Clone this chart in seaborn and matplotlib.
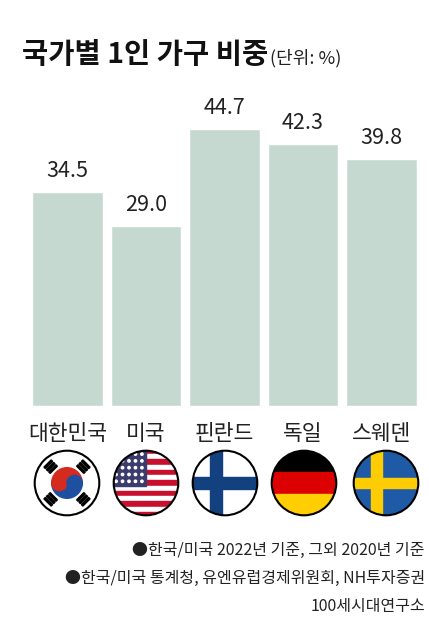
import numpy as np
import pandas as pd
import seaborn as sns
import matplotlib.pyplot as plt
import matplotlib.transforms as mt
from matplotlib.patches import Circle, Rectangle, Wedge

countries = ['대한민국', '미국', '핀란드', '독일', '스웨덴']
shares = [34.5, 29.0, 44.7, 42.3, 39.8]
flags = ['kr', 'us', 'fi', 'de', 'se']

sns.set_theme(style='white')
plt.rcParams['font.family'] = ['Noto Sans CJK KR', 'DejaVu Sans']

W, H = 429, 641
fig = plt.figure(figsize=(W / 100, H / 100), dpi=100)
fig.patch.set_facecolor('white')

ax = fig.add_axes([32 / W, 1 - 406 / H, (417 - 32) / W, 341 / H])
df = pd.DataFrame({'country': countries, 'share': shares})
sns.barplot(data=df, x='country', y='share', color='#c6d9d1', saturation=1,
            width=0.9, ax=ax)
ax.set_ylim(0, 55)
ax.set_xlim(-0.45, 4.45)
for i, v in enumerate(shares):
    ax.text(i, v + 1.6, f'{v:.1f}', ha='center', va='bottom', fontsize=15.5, color='#222222')
ax.set_xlabel('')
ax.set_ylabel('')
ax.set_yticks([])
ax.tick_params(axis='x', length=0, pad=12, labelsize=15.5, colors='#222222')
sns.despine(ax=ax, left=True, bottom=True)


def draw_flag(fa, kind):
    fa.set_xlim(-1, 1)
    fa.set_ylim(-1, 1)
    fa.set_aspect('equal')
    fa.axis('off')
    clip = Circle((0, 0), 0.95, transform=fa.transData)
    parts = []
    if kind == 'kr':
        parts.append(Rectangle((-1, -1), 2, 2, color='white'))
        parts.append(Wedge((0, 0), 0.45, 0, 180, color='#d52b1e'))
        parts.append(Wedge((0, 0), 0.45, 180, 360, color='#1f4fa0'))
        parts.append(Circle((-0.225, 0), 0.225, color='#d52b1e'))
        parts.append(Circle((0.225, 0), 0.225, color='#1f4fa0'))
    elif kind == 'us':
        for k in range(13):
            col = '#c8102e' if k % 2 == 0 else 'white'
            parts.append(Rectangle((-1, 1 - (k + 1) * 2 / 13), 2, 2 / 13, color=col))
        parts.append(Rectangle((-1, 1 - 14 / 13), 1.0, 14 / 13, color='#3c3b6e'))
        for r_ in range(5):
            for c_ in range(5):
                parts.append(Circle((-0.88 + c_ * 0.19, 0.85 - r_ * 0.2), 0.035, color='white'))
    elif kind == 'fi':
        parts.append(Rectangle((-1, -1), 2, 2, color='white'))
        parts.append(Rectangle((-1, -0.18), 2, 0.36, color='#13407f'))
        parts.append(Rectangle((-0.45, -1), 0.36, 2, color='#13407f'))
    elif kind == 'de':
        parts.append(Rectangle((-1, 1 / 3), 2, 2 / 3, color='black'))
        parts.append(Rectangle((-1, -1 / 3), 2, 2 / 3, color='#dd0000'))
        parts.append(Rectangle((-1, -1), 2, 2 / 3, color='#ffce00'))
    elif kind == 'se':
        parts.append(Rectangle((-1, -1), 2, 2, color='#1f5aa6'))
        parts.append(Rectangle((-1, -0.16), 2, 0.32, color='#fecc02'))
        parts.append(Rectangle((-0.45, -1), 0.32, 2, color='#fecc02'))
    for p in parts:
        fa.add_patch(p)
        p.set_clip_path(clip)
    if kind == 'kr':
        for ang in [135, 45, 225, 315]:
            a = np.deg2rad(ang)
            cx, cy = 0.68 * np.cos(a), 0.68 * np.sin(a)
            for k in range(3):
                off = (k - 1) * 0.1
                r = Rectangle((cx - 0.15, cy - 0.03 + off), 0.3, 0.06, color='black', zorder=5)
                r.set_transform(mt.Affine2D().rotate_deg_around(cx, cy, ang + 90) + fa.transData)
                fa.add_patch(r)
    fa.add_patch(Circle((0, 0), 0.95, fill=False, lw=1.5, ec='black', zorder=6))


centers = [67, 146, 225, 304, 386]
rad = 34
for cx, kind in zip(centers, flags):
    fa = fig.add_axes([(cx - rad) / W, 1 - (483 + rad) / H, 2 * rad / W, 2 * rad / H])
    draw_flag(fa, kind)

fig.text(22 / W, 1 - 63 / H, '국가별 1인 가구 비중', fontsize=20.5, fontweight='bold',
         va='baseline', color='#111111')
fig.text(270 / W, 1 - 63 / H, '(단위: %)', fontsize=13, va='baseline', color='#222222')

notes = ['●한국/미국 2022년 기준, 그외 2020년 기준',
         '●한국/미국 통계청, 유엔유럽경제위원회, NH투자증권',
         '100세시대연구소']
for k, t in enumerate(notes):
    fig.text(425 / W, 1 - (555 + k * 28) / H, t, fontsize=11.5, ha='right',
             va='baseline', color='#222222')

fig.savefig('out.png', dpi=100)
